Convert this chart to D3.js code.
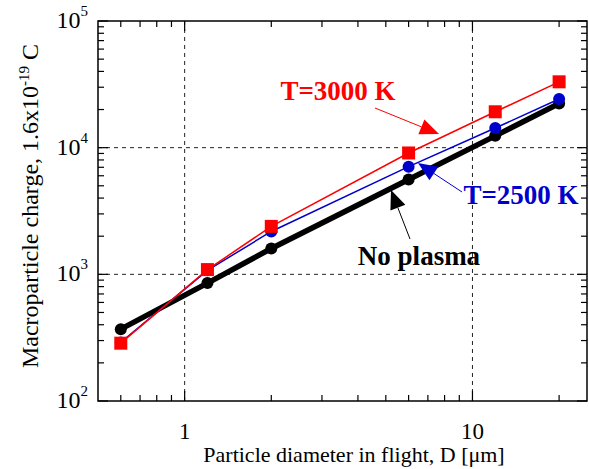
<!doctype html>
<html>
  <head>
    <meta charset="utf8">
    <script src="https://d3js.org/d3.v7.min.js"></script>
    <style type="text/css">
      body { margin: 0; background: #fff; }
    </style>
  </head>
  <body>
    <script type="text/javascript">
      const w = 589;
      const h = 469;
      const margin = {top: 21, right: 2, bottom: 68, left: 98};

      // particle diameters (um)
      const diameters = [0.6, 1.2, 2, 6, 12, 20];
      // charges (in units of 1.6e-19 C)
      const noPlasma = [369, 853, 1600, 5600, 12400, 22300];
      const t2500 = [290, 1075, 2180, 7080, 14300, 24200];
      const t3000 = [286, 1090, 2390, 9080, 19200, 33100];

      const xTicksMajor = [1, 10];
      const xTicksMinor = [0.6, 0.7, 0.8, 0.9, 2, 3, 4, 5, 6, 7, 8, 9, 20];
      const yTicksMajor = [100, 1000, 10000, 100000];
      const yTickExp = ['2', '3', '4', '5'];

      const xScale = d3.scaleLog()
        .domain([0.5, 25])
        .range([margin.left, w - margin.right]);

      const yScale = d3.scaleLog()
        .domain([100, 100000])
        .range([h - margin.bottom, margin.top]);

      const yTicksMinor = [];
      [100, 1000, 10000].forEach((d) => {
        for (let k = 2; k <= 9; k++) yTicksMinor.push(d * k);
      });

      const svg = d3.select('body')
        .append('svg')
        .attr('width', w)
        .attr('height', h)
        .attr('font-family', "'Liberation Serif', 'DejaVu Serif', serif");

      const x0 = margin.left, x1 = w - margin.right;
      const y0 = h - margin.bottom, y1 = margin.top;

      // dashed grid at decades
      const grid = svg.append('g')
        .attr('stroke', '#222')
        .attr('stroke-width', 1)
        .attr('stroke-dasharray', '4,4');

      grid.selectAll('line.gx')
        .data(xTicksMajor)
        .enter()
        .append('line')
        .attr('x1', (d) => xScale(d))
        .attr('x2', (d) => xScale(d))
        .attr('y1', y0)
        .attr('y2', y1);

      grid.selectAll('line.gy')
        .data([1000, 10000])
        .enter()
        .append('line')
        .attr('x1', x0)
        .attr('x2', x1)
        .attr('y1', (d) => yScale(d))
        .attr('y2', (d) => yScale(d));

      // frame
      svg.append('rect')
        .attr('x', x0)
        .attr('y', y1)
        .attr('width', x1 - x0)
        .attr('height', y0 - y1)
        .attr('fill', 'none')
        .attr('stroke', '#000')
        .attr('stroke-width', 1.5);

      // inward ticks on all four sides
      const ticks = svg.append('g').attr('stroke', '#000').attr('stroke-width', 1.2);
      const xt = xTicksMajor.map((d) => [d, 10]).concat(xTicksMinor.map((d) => [d, 6]));
      const yt = yTicksMajor.map((d) => [d, 10]).concat(yTicksMinor.map((d) => [d, 6]));

      xt.forEach(([d, len]) => {
        ticks.append('line')
          .attr('x1', xScale(d)).attr('x2', xScale(d))
          .attr('y1', y0).attr('y2', y0 - len);
        ticks.append('line')
          .attr('x1', xScale(d)).attr('x2', xScale(d))
          .attr('y1', y1).attr('y2', y1 + len);
      });

      yt.forEach(([d, len]) => {
        ticks.append('line')
          .attr('x1', x0).attr('x2', x0 + len)
          .attr('y1', yScale(d)).attr('y2', yScale(d));
        ticks.append('line')
          .attr('x1', x1).attr('x2', x1 - len)
          .attr('y1', yScale(d)).attr('y2', yScale(d));
      });

      // tick labels
      svg.selectAll('text.xl')
        .data(xTicksMajor)
        .enter()
        .append('text')
        .attr('x', (d) => xScale(d))
        .attr('y', y0 + 38)
        .attr('text-anchor', 'middle')
        .attr('font-size', '23px')
        .text((d) => d);

      const yl = svg.selectAll('text.yl')
        .data(yTicksMajor)
        .enter()
        .append('text')
        .attr('x', 88)
        .attr('y', (d) => yScale(d) + 7)
        .attr('text-anchor', 'end')
        .attr('font-size', '24px');
      yl.append('tspan').text('10');
      yl.append('tspan')
        .attr('dy', -12)
        .attr('font-size', '15px')
        .text((d, i) => yTickExp[i]);

      // axis titles
      svg.append('text')
        .attr('x', 354)
        .attr('y', 462)
        .attr('text-anchor', 'middle')
        .attr('font-size', '22px')
        .text('Particle diameter in flight, D [\u03bcm]');

      const yt2 = svg.append('text')
        .attr('transform', 'translate(38,206) rotate(-90)')
        .attr('text-anchor', 'middle')
        .attr('font-size', '24px');
      yt2.append('tspan').text('Macroparticle charge, 1.6x10');
      yt2.append('tspan').attr('dy', -9).attr('font-size', '15px').text('-19');
      yt2.append('tspan').attr('dy', 9).text(' C');

      // series
      const line = d3.line()
        .x((d) => xScale(d[0]))
        .y((d) => yScale(d[1]));

      const series = [
        {vals: noPlasma, color: '#000', width: 5.5, shape: 'circle', r: 6},
        {vals: t2500, color: '#0000cc', width: 1.5, shape: 'circle', r: 6},
        {vals: t3000, color: '#ff0000', width: 1.5, shape: 'square', r: 6.5}
      ];

      series.forEach((s) => {
        const pts = diameters.map((d, i) => [d, s.vals[i]]);
        svg.append('path')
          .datum(pts)
          .attr('d', line)
          .attr('fill', 'none')
          .attr('stroke', s.color)
          .attr('stroke-width', s.width);
        if (s.shape === 'circle') {
          svg.selectAll(null)
            .data(pts)
            .enter()
            .append('circle')
            .attr('cx', (d) => xScale(d[0]))
            .attr('cy', (d) => yScale(d[1]))
            .attr('r', s.r)
            .attr('fill', s.color);
        } else {
          svg.selectAll(null)
            .data(pts)
            .enter()
            .append('rect')
            .attr('x', (d) => xScale(d[0]) - s.r)
            .attr('y', (d) => yScale(d[1]) - s.r)
            .attr('width', s.r * 2)
            .attr('height', s.r * 2)
            .attr('fill', s.color);
        }
      });

      // annotations with arrows
      function arrow(xa, ya, xb, yb, color) {
        const ang = Math.atan2(yb - ya, xb - xa);
        const L = 19, W = 8;
        const bx = xb - L * Math.cos(ang), by = yb - L * Math.sin(ang);
        svg.append('line')
          .attr('x1', xa).attr('y1', ya)
          .attr('x2', bx).attr('y2', by)
          .attr('stroke', color).attr('stroke-width', 1);
        const px = -Math.sin(ang) * W, py = Math.cos(ang) * W;
        svg.append('path')
          .attr('d', 'M' + xb + ',' + yb + 'L' + (bx + px) + ',' + (by + py) + 'L' + (bx - px) + ',' + (by - py) + 'Z')
          .attr('fill', color);
      }

      svg.append('text')
        .attr('x', 338).attr('y', 100)
        .attr('text-anchor', 'middle')
        .attr('font-size', '27px').attr('font-weight', 'bold')
        .attr('fill', '#ff0000')
        .text('T=3000 K');
      arrow(375, 108, 439, 134, '#ff0000');

      svg.append('text')
        .attr('x', 521).attr('y', 204)
        .attr('text-anchor', 'middle')
        .attr('font-size', '27px').attr('font-weight', 'bold')
        .attr('fill', '#0000cc')
        .text('T=2500 K');
      arrow(462, 192, 418, 163, '#0000cc');

      svg.append('text')
        .attr('x', 419).attr('y', 265)
        .attr('text-anchor', 'middle')
        .attr('font-size', '27px').attr('font-weight', 'bold')
        .attr('fill', '#000')
        .text('No plasma');
      arrow(410, 239, 391, 190, '#000');
    </script>
  </body>
</html>
